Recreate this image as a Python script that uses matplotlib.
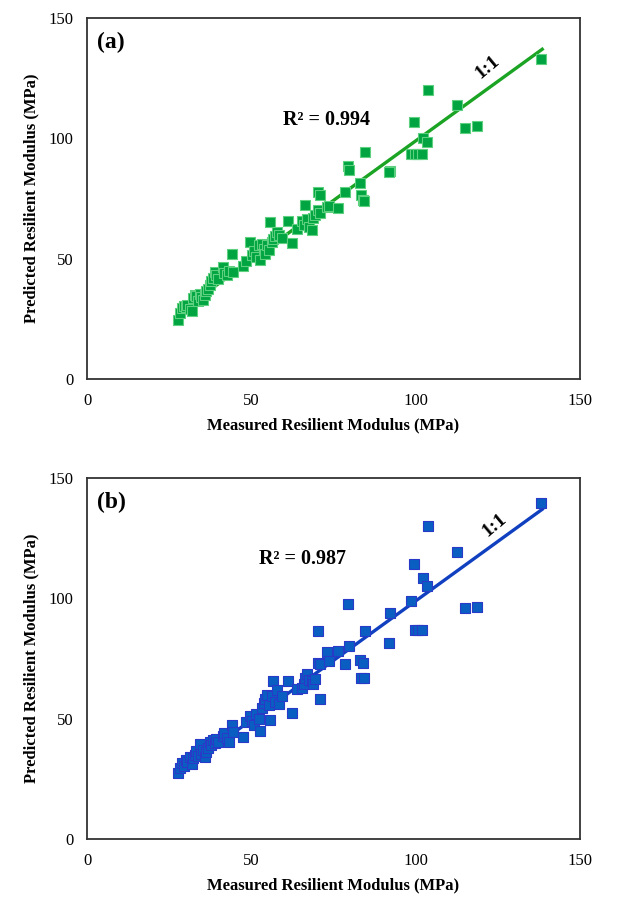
import matplotlib
matplotlib.use('Agg')
import matplotlib.pyplot as plt

plt.rcParams['font.family'] = ['Liberation Serif', 'DejaVu Serif']

# measured vs predicted resilient modulus (MPa)
measured = [27.8, 28.3, 28.8, 29.5, 30.0, 30.5, 31.3, 31.8, 32.3, 32.8,
            33.3, 33.8, 34.3, 34.8, 35.3, 35.8, 36.3, 36.8, 37.3, 37.8,
            38.3, 38.8, 39.3, 40.0, 41.3, 41.8, 42.5, 43.3, 44.0, 44.5,
            47.4, 48.5, 49.6, 50.2, 50.8, 51.5, 52.2, 52.6, 53.2, 53.8,
            54.3, 54.8, 55.3, 55.6, 56.3, 56.6, 57.3, 57.8, 58.5, 59.3,
            61.2, 62.3, 64.0, 65.3, 66.0, 66.3, 67.0, 67.5, 68.4, 68.9,
            69.5, 70.2, 70.4, 70.8, 71.0, 72.9, 73.5, 76.3, 78.5, 79.5,
            79.8, 83.1, 83.5, 83.9, 84.2, 84.6, 92.2, 92.0, 98.6, 99.4,
            99.8, 100.8, 102.0, 102.3, 103.3, 103.8, 112.5, 115.1, 118.6, 138.1]

pred_a = [24.5, 27.5, 29.5, 30.5, 30.0, 30.8, 29.0, 28.2, 33.5, 35.0,
          34.5, 32.5, 35.5, 34.0, 33.0, 35.0, 36.5, 37.5, 39.0, 40.5,
          42.0, 44.5, 43.0, 41.5, 46.7, 44.0, 43.0, 45.0, 51.9, 44.5,
          47.1, 49.0, 57.0, 51.5, 53.0, 50.5, 55.5, 49.5, 56.0, 54.0,
          52.0, 55.5, 53.5, 65.4, 57.0, 58.0, 59.5, 61.0, 60.0, 58.5,
          65.8, 56.4, 62.5, 65.8, 64.0, 72.4, 66.5, 63.0, 61.9, 67.0,
          68.0, 70.0, 77.8, 76.5, 69.0, 71.6, 72.0, 70.9, 77.7, 88.6,
          86.7, 81.3, 76.5, 74.5, 73.8, 94.3, 86.5, 86.0, 93.5, 106.8,
          93.5, 93.5, 93.5, 100.3, 98.6, 120.1, 113.7, 104.3, 105.2, 133.0]

pred_b = [27.5, 29.5, 31.5, 30.5, 33.0, 32.0, 34.0, 31.0, 33.5, 35.0,
          36.5, 34.5, 39.5, 35.5, 37.0, 34.0, 36.0, 38.0, 40.5, 39.0,
          41.0, 40.0, 41.5, 40.5, 43.0, 44.0, 42.0, 40.5, 47.5, 44.5,
          42.5, 48.5, 51.0, 49.0, 47.5, 52.0, 50.0, 45.0, 54.5, 56.5,
          58.0, 60.0, 55.5, 49.5, 59.5, 65.7, 57.0, 61.8, 56.0, 59.5,
          65.7, 52.2, 62.5, 62.6, 64.5, 67.0, 68.5, 66.0, 65.5, 64.5,
          66.5, 73.0, 86.3, 72.6, 58.3, 77.9, 74.0, 78.3, 72.6, 97.6,
          80.3, 74.3, 66.9, 73.0, 67.0, 86.3, 94.0, 81.3, 98.9, 114.2,
          86.8, 86.8, 86.8, 108.3, 105.2, 130.2, 119.2, 95.8, 96.5, 139.7]

line_x = [28.0, 138.5]
line_y = [27.7, 137.0]

ticks = [0, 50, 100, 150]

fig = plt.figure(figsize=(6.38, 8.98), dpi=100)
ax_a = fig.add_axes([0.1364, 0.578, 0.7727, 0.402])
ax_b = fig.add_axes([0.1364, 0.0657, 0.7727, 0.402])

panels = [
    (ax_a, pred_a, '#00A541', '#5FD080', '#1BA424', '(a)', 'R² = 0.994', (73, 107.6), (122, 129.6)),
    (ax_b, pred_b, '#0A5EC2', '#2A3AC8', '#1040C0', '(b)', 'R² = 0.987', (65.7, 116.3), (124, 130.5)),
]

for ax, pred, fc, ec, lc, tag, r2, r2_pos, one_pos in panels:
    ax.plot(line_x, line_y, color=lc, lw=2.4, zorder=2)
    ax.scatter(measured, pred, marker='s', s=62, color=fc, edgecolors=ec, linewidths=0.8, zorder=3)
    ax.set_xlim(0, 150)
    ax.set_ylim(0, 150)
    ax.set_xticks(ticks)
    ax.set_yticks(ticks)
    ax.tick_params(length=0, labelsize=12, pad=10)
    for s in ax.spines.values():
        s.set_color('#333333')
        s.set_linewidth(1.3)
    ax.set_xlabel('Measured Resilient Modulus (MPa)', fontsize=12, fontweight='bold', labelpad=6)
    ax.set_ylabel('Predicted Resilient Modulus (MPa)', fontsize=12, fontweight='bold', labelpad=6)
    ax.text(3, 140, tag, fontsize=17, fontweight='bold', ha='left', va='center')
    ax.text(r2_pos[0], r2_pos[1], r2, fontsize=14.5, fontweight='bold', ha='center', va='center')
    ax.text(one_pos[0], one_pos[1], '1:1', fontsize=14, fontweight='bold', ha='center', va='center', rotation=40)

fig.savefig('out.png', dpi=100)
